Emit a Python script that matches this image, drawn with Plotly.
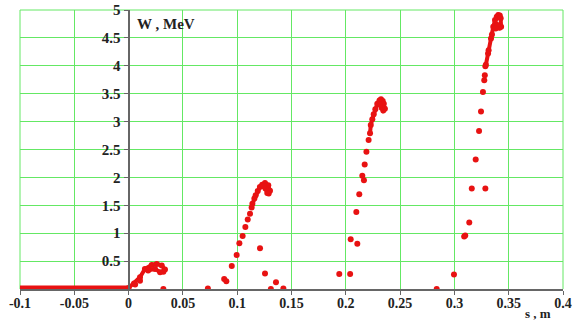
import plotly.graph_objects as go

# ---- data (s in m, W in MeV) ----
flat_s = [-0.1, 0.0]
flat_w = [0.02, 0.02]

b1_s = [0.0, 0.005, 0.0105, 0.015, 0.0213, 0.0259, 0.0305, 0.0335, 0.032, 0.029, 0.0243, 0.018]
b1_w = [0.02, 0.10, 0.21, 0.36, 0.43, 0.45, 0.42, 0.35, 0.31, 0.30, 0.36, 0.33]
b1_lo_s = [0.006, 0.0105, 0.032]
b1_lo_w = [0.08, 0.15, 0.0]

b2_s = [0.073, 0.088, 0.090, 0.095, 0.0995, 0.102, 0.105, 0.1075, 0.1097, 0.1118, 0.1133,
        0.121, 0.1256, 0.1357, 0.131, 0.1425]
b2_w = [0.01, 0.18, 0.14, 0.41, 0.61, 0.82, 0.95, 1.11, 1.245, 1.35, 1.46,
        0.73, 0.28, 0.12, 0.0, 0.01]
b2c_s = [0.114, 0.1158, 0.117, 0.1189, 0.1209, 0.123, 0.1256, 0.1286, 0.1302, 0.129, 0.1277, 0.126, 0.1245]
b2c_w = [1.53, 1.62, 1.68, 1.755, 1.827, 1.87, 1.90, 1.86, 1.76, 1.71, 1.72, 1.80, 1.84]

b3_s = [0.194, 0.204, 0.2045, 0.2106, 0.2097, 0.2124, 0.2152, 0.2167, 0.2174, 0.219, 0.221]
b3_w = [0.27, 0.27, 0.89, 0.81, 1.38, 1.70, 2.03, 1.95, 2.23, 2.46, 2.67]
b3c_s = [0.2223, 0.223, 0.2244, 0.2257, 0.2272, 0.229, 0.231, 0.2324, 0.234, 0.235, 0.236, 0.2345, 0.233, 0.2315]
b3c_w = [2.79, 2.94, 3.04, 3.13, 3.22, 3.32, 3.38, 3.40, 3.37, 3.32, 3.23, 3.20, 3.25, 3.30]

b4_s = [0.2837, 0.2996, 0.309, 0.310, 0.3137, 0.316, 0.3285, 0.3196, 0.3227, 0.3245, 0.3263, 0.3275, 0.328]
b4_w = [0.0, 0.26, 0.94, 0.96, 1.19, 1.80, 1.80, 2.32, 2.83, 3.18, 3.53, 3.74, 3.83]
b4c_s = [0.3285, 0.329, 0.331, 0.3315, 0.3337, 0.3346, 0.3358, 0.3374, 0.339, 0.3404, 0.3418, 0.3426, 0.343, 0.3415, 0.3395, 0.338]
b4c_w = [3.99, 4.02, 4.22, 4.28, 4.49, 4.56, 4.70, 4.82, 4.88, 4.91, 4.90, 4.85, 4.70, 4.68, 4.73, 4.67]

x_ticks = [-0.1, -0.05, 0, 0.05, 0.1, 0.15, 0.2, 0.25, 0.3, 0.35, 0.4]
x_labels = ["-0.1", "-0.05", "0", "0.05", "0.1", "0.15", "0.2", "0.25", "0.3", "0.35", "0.4"]
y_ticks = [0.5, 1, 1.5, 2, 2.5, 3, 3.5, 4, 4.5, 5]
y_labels = ["0.5", "1", "1.5", "2", "2.5", "3", "3.5", "4", "4.5", "5"]

RED = "#e81212"
FONT = "Liberation Serif"

fig = go.Figure()
fig.add_trace(go.Scatter(x=flat_s, y=flat_w, mode="lines", line=dict(color=RED, width=5)))
for xs, ys in [(b1_s, b1_w), (b2c_s, b2c_w), (b3c_s, b3c_w), (b4c_s, b4c_w)]:
    fig.add_trace(go.Scatter(x=xs, y=ys, mode="lines+markers",
                             line=dict(color=RED, width=4),
                             marker=dict(color=RED, size=6)))
for xs, ys in [(b1_lo_s, b1_lo_w), (b2_s, b2_w), (b3_s, b3_w), (b4_s, b4_w)]:
    fig.add_trace(go.Scatter(x=xs, y=ys, mode="markers",
                             marker=dict(color=RED, size=6)))

grid = "rgb(100,232,100)"
fig.update_layout(
    width=579, height=320,
    margin=dict(l=20, r=16, t=10, b=31),
    paper_bgcolor="white", plot_bgcolor="white",
    showlegend=False,
    font=dict(family=FONT, size=14, color="#222"),
    xaxis=dict(range=[-0.1, 0.4], tickvals=x_ticks, ticktext=x_labels,
               showgrid=True, gridcolor=grid, gridwidth=1, automargin=False,
               zeroline=False, showline=True, linecolor="#666", linewidth=2,
               ticks="outside", ticklen=4, tickcolor="#666",
               ticklabelstandoff=-4,
               tickfont=dict(family=FONT, size=14, color="#222", weight="bold"),
               mirror=False),
    yaxis=dict(range=[0, 5], tickvals=y_ticks, ticktext=y_labels,
               showgrid=True, gridcolor=grid, gridwidth=1, automargin=False,
               zeroline=False, showline=True, linecolor="#666", linewidth=2,
               ticks="outside", ticklen=4, tickcolor="#666",
               anchor="free", position=0.2,
               tickfont=dict(family=FONT, size=15, color="#222", weight="bold")),
    shapes=[
        dict(type="line", xref="paper", yref="paper", x0=0, x1=0, y0=0, y1=1,
             line=dict(color=grid, width=1), layer="below"),
        dict(type="line", xref="paper", yref="paper", x0=1, x1=1, y0=0, y1=1,
             line=dict(color=grid, width=1), layer="below"),
        dict(type="line", xref="paper", yref="paper", x0=0, x1=1, y0=1, y1=1,
             line=dict(color=grid, width=1), layer="below"),
    ],
    annotations=[
        dict(text="W , MeV", x=0.006, y=1.0, xref="x", yref="paper",
             xanchor="left", yanchor="top", yshift=-4, showarrow=False,
             font=dict(family=FONT, size=15, color="#222", weight="bold")),
        dict(text="s , m", x=0.377, y=0, xref="x", yref="paper",
             xanchor="center", yanchor="top", yshift=-15, showarrow=False,
             font=dict(family=FONT, size=13, color="#222", weight="bold")),
    ],
)

fig.write_html("out.html", config={"displayModeBar": False},
               post_script="document.body.style.margin='0';")
